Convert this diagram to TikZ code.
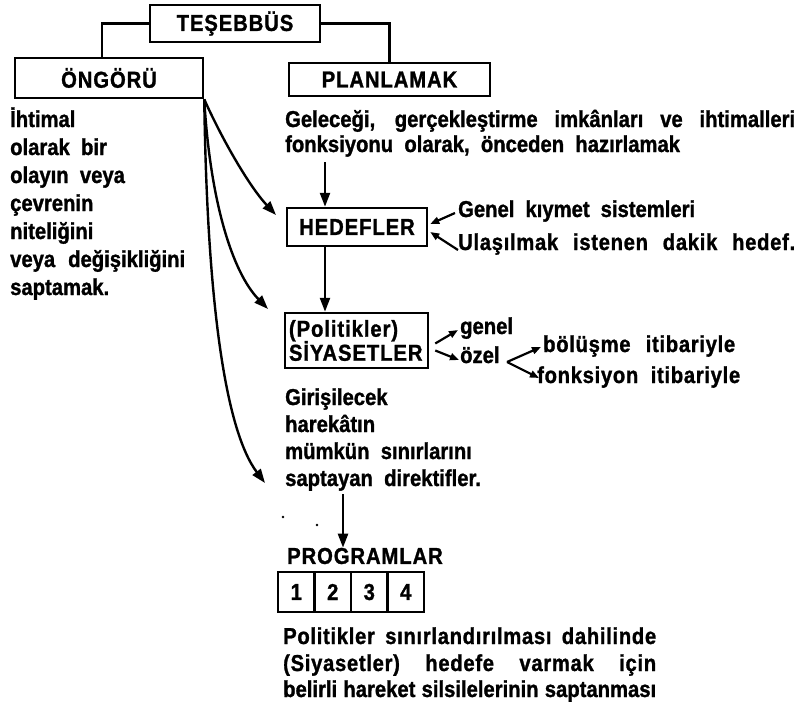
\documentclass[tikz,border=0pt]{standalone}
\usepackage{fontspec}
\setmainfont{Liberation Sans}[FakeStretch=0.88, BoldFeatures={FakeBold=1.2}]
\usetikzlibrary{arrows.meta,calc}
\tikzset{
  lbl/.style={font=\fontsize{23}{27}\selectfont\bfseries, inner sep=0pt},
  clbl/.style={font=\fontsize{23}{27}\selectfont\bfseries\addfontfeature{LetterSpace=4}, inner sep=0pt},
  txt/.style={lbl, anchor=base west},
  wtxt/.style={txt, font=\fontsize{23}{27}\selectfont\bfseries\addfontfeature{LetterSpace=3}},
  boxn/.style={clbl, draw, line width=2.5pt},
  ln/.style={line width=2.5pt},
  arr/.style={line width=2.4pt, -{Triangle[length=14pt,width=10pt]}},
  sarr/.style={line width=2.2pt, -{Triangle[length=9pt,width=7pt]}},
}
\begin{document}
\begin{tikzpicture}[x=1pt,y=-1pt]
\useasboundingbox (0,0) rectangle (809,702);
% boxes
\node[boxn, minimum width=170, minimum height=37] (t) at (235,23.5) {TEŞEBBÜS};
\node[boxn, minimum width=188, minimum height=40] (o) at (109,78) {ÖNGÖRÜ};
\node[boxn, minimum width=201, minimum height=33] (p) at (389.5,79.5) {PLANLAMAK};
\node[boxn, minimum width=140, minimum height=38] (h) at (357,227) {HEDEFLER};
\node[boxn, minimum width=143, minimum height=55, align=left, text width=135] (s) at (356.5,340.5) {(Politikler)\\[-3pt]SİYASETLER};
% top connectors
\draw[ln] (t.west) -| ([xshift=-7pt]o.north);
\draw[ln] (t.east) -| (p.north);
% left text
\node[txt] (l1) at (10,127) {İhtimal};
\node[txt] (l2) at (10,155) {olarak\ \ bir};
\node[txt] (l3) at (10,183) {olayın\ \ veya};
\node[txt] (l4) at (10,211) {çevrenin};
\node[txt] (l5) at (10,239) {niteliğini};
\node[txt] (l6) at (10,267) {\makebox[175pt][s]{veya değişikliğini}};
\node[txt] (l7) at (10,295) {saptamak.};
% planlamak text
\node[txt] (g1) at (285,127) {\makebox[510pt][s]{Geleceği, gerçekleştirme imkânları ve ihtimalleri}};
\node[txt] (g2) at (285,152) {fonksiyonu\ \ olarak,\ \ önceden\ \ hazırlamak};
\coordinate (a1) at (325,162);
\draw[arr] (a1) -- (a1 |- h.north);
\draw[arr] (h.south -| a1) -- (s.north -| a1);
% hedefler side texts
\node[txt] (gk) at (458,217) {\makebox[237pt][s]{Genel kıymet sistemleri}};
\node[wtxt] (ul) at (458,250) {\makebox[337pt][s]{Ulaşılmak istenen dakik hedef.}};
\draw[sarr] (455,213) -- ([xshift=2pt,yshift=3pt]h.east);
\draw[sarr] (ul.base west) -- ([xshift=2pt,yshift=-5pt]h.east);
% siyasetler side
\node[txt] (ge) at (460,334) {genel};
\node[txt] (oz) at (460,363) {özel};
\node[wtxt] (bo) at (543,352) {\makebox[192pt][s]{bölüşme itibariyle}};
\node[wtxt] (fo) at (537,383) {\makebox[203pt][s]{fonksiyon itibariyle}};
\draw[sarr] ([xshift=6pt,yshift=-3pt]s.east) -- (458,330);
\draw[sarr] ([xshift=6pt,yshift=-10pt]s.east) -- (459,360);
\coordinate (v) at (507,362);
\draw[sarr] (v) -- (541,347);
\draw[sarr] (v) -- (539,378);
% girisilecek
\node[txt] (d1) at (285,405) {Girişilecek};
\node[txt] (d2) at (285,432) {harekâtın};
\node[txt] (d3) at (285,459) {mümkün\ \ sınırlarını};
\node[txt] (d4) at (285,486) {saptayan\ \ direktifler.};
\coordinate (a3) at (343,494);
\node[clbl, anchor=west] (pr) at (287,556) {PROGRAMLAR};
\node[boxn, minimum width=36.5, minimum height=40] (p1) at (296.25,592) {1};
\node[boxn, minimum width=36.5, minimum height=40] (p2) at (332.75,592) {2};
\node[boxn, minimum width=36.5, minimum height=40] (p3) at (369.25,592) {3};
\node[boxn, minimum width=36.5, minimum height=40] (p4) at (405.75,592) {4};
\draw[arr] (a3) -- (a3 |- pr.north);
\fill (283,517) circle (1.3);
\fill (317,525) circle (1.3);
% bottom text
\node[wtxt] (b1) at (283,644) {\makebox[373pt][s]{Politikler sınırlandırılması dahilinde}};
\node[wtxt] (b2) at (283,671) {\makebox[373pt][s]{(Siyasetler) hedefe varmak için}};
\node[txt] (b3) at (283,697) {\makebox[373pt][s]{belirli hareket silsilelerinin saptanması}};
% curved arrows from ongoru
\draw[arr] (o.south east) .. controls (220,135) and (248,185) .. (276,215);
\draw[arr] (o.south east) .. controls (210,200) and (232,272) .. (268,309);
\draw[arr] (o.south east) .. controls (207,300) and (225,430) .. (265,483);
\end{tikzpicture}
\end{document}
